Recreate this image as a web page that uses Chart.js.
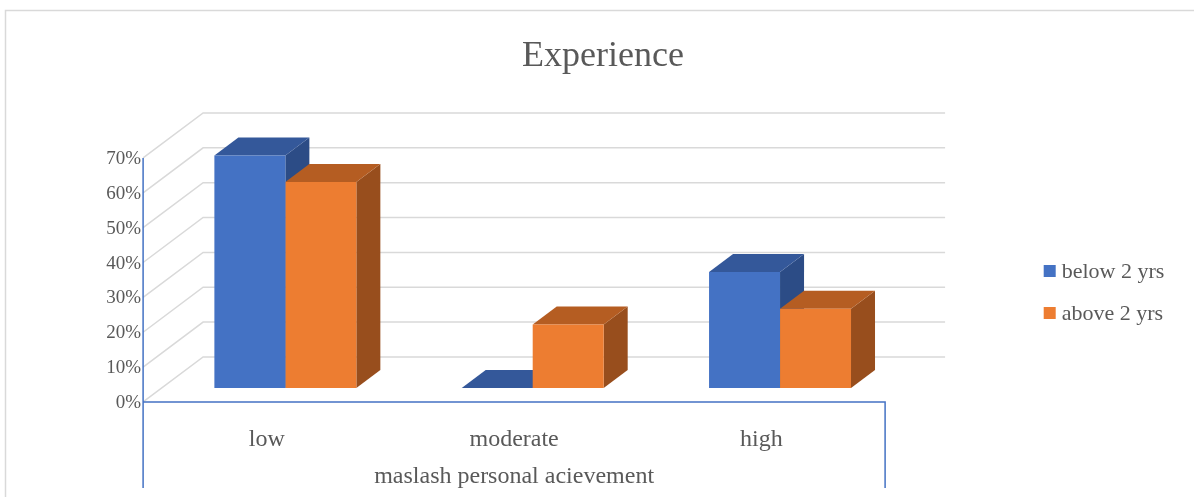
<!DOCTYPE html>
<html>
<head>
<meta charset="utf-8">
<script src="https://cdn.jsdelivr.net/npm/chart.js@4"></script>
<style>
  html, body { margin: 0; padding: 0; background: #fff; }
  #wrap { width: 1194px; height: 497px; }
</style>
</head>
<body>
<div id="wrap"><canvas id="chart" width="1194" height="497"></canvas></div>
<script>
const categories = ["low", "moderate", "high"];
const seriesNames = ["below 2 yrs", "above 2 yrs"];
const below2yrs = [66.7, 0, 33.3];
const above2yrs = [59.1, 18.2, 22.7];
const yMax = 70;
const yStep = 10;
const chartTitle = "Experience";
const xAxisTitle = "maslash personal acievement";

const FONT = "'Liberation Serif', 'Times New Roman', serif";
const TEXT = "#595959";
const GRID = "#d9d9d9";
const AXIS = "#4472c4";

// fake 3d: depth of the whole box, front plane sits FRONT_T in front of the bars,
// bars are BAR_D of the depth deep
const DEPTH_X = 60, DEPTH_Y = 45;
const FRONT_T = 0.31, BAR_D = 0.4;

const faces = [
  { front: "#4472c4", top: "#34589a", side: "#2c4c86" },
  { front: "#ed7d31", top: "#b55d22", side: "#984e1d" }
];

function poly(ctx, color, pts) {
  ctx.fillStyle = color;
  ctx.beginPath();
  ctx.moveTo(pts[0][0], pts[0][1]);
  for (let i = 1; i < pts.length; i++) ctx.lineTo(pts[i][0], pts[i][1]);
  ctx.closePath();
  ctx.fill();
}

const box3d = {
  id: "box3d",
  beforeDraw(chart) {
    const ctx = chart.ctx;
    ctx.save();
    ctx.strokeStyle = GRID;
    ctx.lineWidth = 1.5;
    ctx.strokeRect(5.5, 10.5, chart.width + 20, chart.height + 20);
    ctx.restore();
  },
  beforeDatasetsDraw(chart) {
    const { ctx, chartArea: a, scales: { y } } = chart;
    const fx = -DEPTH_X * FRONT_T, fy = DEPTH_Y * FRONT_T;
    const bx = DEPTH_X * (1 - FRONT_T), by = -DEPTH_Y * (1 - FRONT_T);
    ctx.save();
    // side wall diagonals + back wall grid lines
    ctx.strokeStyle = GRID;
    ctx.lineWidth = 1.5;
    y.ticks.forEach(t => {
      const py = y.getPixelForValue(t.value);
      ctx.beginPath();
      ctx.moveTo(a.left + fx, py + fy);
      ctx.lineTo(a.left + bx, py + by);
      ctx.lineTo(a.right + bx, py + by);
      ctx.stroke();
    });
    // tops and sides of the bars, fronts come from chart.js afterwards
    const dx = DEPTH_X * BAR_D, dy = DEPTH_Y * BAR_D;
    categories.forEach((c, i) => {
      chart.data.datasets.forEach((ds, d) => {
        const bar = chart.getDatasetMeta(d).data[i];
        const l = bar.x - bar.width / 2, r = bar.x + bar.width / 2;
        poly(ctx, faces[d].side, [[r, bar.y], [r + dx, bar.y - dy], [r + dx, bar.base - dy], [r, bar.base]]);
        poly(ctx, faces[d].top, [[l, bar.y], [r, bar.y], [r + dx, bar.y - dy], [l + dx, bar.y - dy]]);
      });
    });
    ctx.restore();
  },
  afterDraw(chart) {
    const { ctx, chartArea: a, scales: { y } } = chart;
    const fx = -DEPTH_X * FRONT_T, fy = DEPTH_Y * FRONT_T;
    const x0 = a.left + fx, x1 = a.right + fx;
    const y0 = y.getPixelForValue(0) + fy;
    const yTop = y.getPixelForValue(yMax) + fy;
    const yEnd = chart.height - 9;
    ctx.save();
    ctx.strokeStyle = AXIS;
    ctx.lineWidth = 1.5;
    ctx.beginPath();
    ctx.moveTo(x0, yTop);
    ctx.lineTo(x0, yEnd);
    ctx.moveTo(x0, y0);
    ctx.lineTo(x1, y0);
    ctx.lineTo(x1, yEnd);
    ctx.stroke();

    // axis title, centred on the front plane
    ctx.fillStyle = TEXT;
    ctx.font = "24px " + FONT;
    ctx.textAlign = "center";
    ctx.textBaseline = "alphabetic";
    ctx.fillText(xAxisTitle, (x0 + x1) / 2, chart.height - 14);

    // legend
    ctx.font = "22px " + FONT;
    ctx.textAlign = "left";
    ctx.textBaseline = "middle";
    const lx = a.right + 140;
    chart.data.datasets.forEach((ds, d) => {
      const ly = 271 + d * 42;
      ctx.fillStyle = ds.backgroundColor;
      ctx.fillRect(lx, ly - 6, 12, 12);
      ctx.fillStyle = TEXT;
      ctx.fillText(ds.label, lx + 18, ly + 1);
    });
    ctx.restore();
  }
};

new Chart(document.getElementById("chart"), {
  type: "bar",
  data: {
    labels: categories,
    datasets: [
      { label: seriesNames[0], data: below2yrs, backgroundColor: faces[0].front },
      { label: seriesNames[1], data: above2yrs, backgroundColor: faces[1].front }
    ]
  },
  options: {
    responsive: false,
    animation: false,
    devicePixelRatio: 1,
    categoryPercentage: 0.574,
    barPercentage: 1.0,
    layout: { padding: { left: 12, right: 0, top: 0, bottom: 0 } },
    plugins: {
      legend: { display: false },
      tooltip: { enabled: false },
      title: {
        display: true,
        text: chartTitle,
        color: TEXT,
        font: { family: FONT, size: 36, weight: "normal" },
        padding: { top: 35, bottom: 65.8 }
      }
    },
    scales: {
      x: {
        grid: { display: false, drawTicks: false },
        border: { display: false },
        ticks: {
          color: TEXT,
          font: { family: FONT, size: 24 },
          padding: 37.6,
          labelOffset: -DEPTH_X * FRONT_T
        },
        afterFit(s) { s.height = 109; }
      },
      y: {
        min: 0,
        max: yMax,
        grid: { display: false, drawTicks: false },
        border: { display: false },
        ticks: {
          stepSize: yStep,
          color: TEXT,
          font: { family: FONT, size: 19 },
          padding: 20.7,
          labelOffset: 15,
          callback: v => v + "%"
        },
        afterFit(s) { s.width = 149.7; }
      },
      yR: {
        type: "linear",
        position: "right",
        grid: { display: false, drawTicks: false },
        border: { display: false },
        ticks: { display: false },
        afterFit(s) { s.width = 290.3; }
      }
    }
  },
  plugins: [box3d]
});
</script>
</body>
</html>
